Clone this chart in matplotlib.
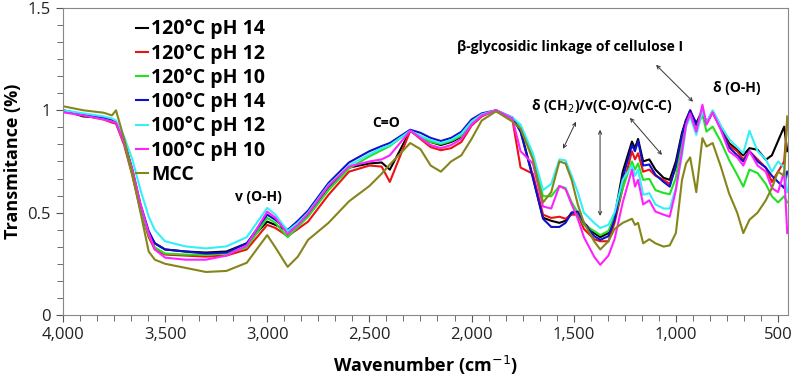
import numpy as np
import matplotlib
matplotlib.use("Agg")
import matplotlib.pyplot as plt
from matplotlib.ticker import MultipleLocator, AutoMinorLocator, FuncFormatter

plt.rcParams['font.family'] = ['Open Sans', 'DejaVu Sans']

# wavenumber grid (cm-1) the values were read at
wn = [4000, 3900, 3800, 3760, 3740, 3700, 3660, 3620, 3580, 3550,
      3500, 3400, 3300, 3200, 3100, 3000, 2960, 2900, 2850, 2800,
      2700, 2600, 2500, 2440, 2400, 2300, 2250, 2200, 2150, 2100,
      2050, 2000, 1950, 1880, 1800, 1760, 1700, 1650, 1610, 1570,
      1540, 1510, 1480, 1450, 1400, 1370, 1330, 1300, 1260, 1215,
      1200, 1185, 1160, 1130, 1100, 1060, 1030, 1000, 970, 950,
      930, 900, 870, 850, 820, 780, 740, 700, 670, 640,
      600, 560, 530, 500, 470, 455]

t120_ph14 = [1.00, 0.97, 0.963, 0.955, 0.94, 0.85, 0.70, 0.53, 0.40, 0.35,
             0.32, 0.31, 0.305, 0.31, 0.35, 0.456, 0.44, 0.41, 0.44, 0.49,
             0.625, 0.72, 0.74, 0.745, 0.71, 0.90, 0.87, 0.845, 0.83, 0.845,
             0.87, 0.935, 0.975, 1.00, 0.96, 0.90, 0.676, 0.475, 0.46, 0.45,
             0.46, 0.50, 0.50, 0.45, 0.40, 0.38, 0.40, 0.48, 0.70, 0.847,
             0.815, 0.86, 0.75, 0.76, 0.71, 0.67, 0.66, 0.75, 0.89, 0.954,
             0.995, 0.937, 1.00, 0.937, 0.995, 0.92, 0.84, 0.807, 0.78, 0.815,
             0.807, 0.758, 0.78, 0.85, 0.92, 0.80]
t120_ph12 = [1.00, 0.975, 0.955, 0.94, 0.935, 0.83, 0.68, 0.51, 0.38, 0.32,
             0.295, 0.29, 0.285, 0.29, 0.32, 0.44, 0.425, 0.385, 0.42, 0.456,
             0.587, 0.70, 0.73, 0.725, 0.65, 0.90, 0.86, 0.82, 0.805, 0.815,
             0.845, 0.925, 0.97, 1.00, 0.955, 0.72, 0.69, 0.49, 0.474, 0.48,
             0.47, 0.49, 0.49, 0.42, 0.37, 0.36, 0.36, 0.45, 0.62, 0.80,
             0.76, 0.79, 0.70, 0.71, 0.68, 0.66, 0.64, 0.72, 0.86, 0.95,
             1.00, 0.92, 1.00, 0.94, 0.99, 0.91, 0.83, 0.80, 0.76, 0.80,
             0.76, 0.72, 0.65, 0.70, 0.75, 0.95]
t120_ph10 = [1.00, 0.98, 0.96, 0.95, 0.94, 0.84, 0.69, 0.52, 0.39, 0.33,
             0.30, 0.295, 0.295, 0.30, 0.33, 0.474, 0.45, 0.38, 0.43, 0.48,
             0.61, 0.715, 0.775, 0.805, 0.825, 0.90, 0.87, 0.845, 0.835, 0.85,
             0.875, 0.94, 0.975, 0.995, 0.955, 0.92, 0.77, 0.58, 0.58, 0.63,
             0.62, 0.55, 0.50, 0.44, 0.41, 0.39, 0.41, 0.48, 0.62, 0.75,
             0.71, 0.74, 0.66, 0.665, 0.61, 0.596, 0.59, 0.67, 0.85, 0.94,
             0.985, 0.905, 0.98, 0.896, 0.92, 0.847, 0.758, 0.685, 0.627, 0.71,
             0.693, 0.64, 0.58, 0.55, 0.58, 0.55]
t100_ph14 = [1.00, 0.98, 0.965, 0.955, 0.94, 0.85, 0.71, 0.54, 0.41, 0.35,
             0.32, 0.31, 0.30, 0.305, 0.35, 0.49, 0.465, 0.415, 0.46, 0.51,
             0.645, 0.745, 0.80, 0.825, 0.84, 0.905, 0.89, 0.865, 0.85, 0.865,
             0.895, 0.955, 0.985, 1.00, 0.965, 0.895, 0.67, 0.47, 0.43, 0.43,
             0.45, 0.50, 0.505, 0.45, 0.385, 0.367, 0.385, 0.465, 0.67, 0.83,
             0.80, 0.85, 0.73, 0.735, 0.685, 0.65, 0.627, 0.73, 0.88, 0.95,
             1.00, 0.93, 0.995, 0.935, 0.99, 0.91, 0.82, 0.78, 0.75, 0.80,
             0.75, 0.72, 0.68, 0.65, 0.62, 0.70]
t100_ph12 = [1.00, 0.985, 0.97, 0.96, 0.95, 0.87, 0.76, 0.61, 0.48, 0.415,
             0.36, 0.335, 0.325, 0.335, 0.38, 0.523, 0.49, 0.41, 0.45, 0.50,
             0.635, 0.73, 0.785, 0.815, 0.83, 0.90, 0.875, 0.855, 0.84, 0.855,
             0.885, 0.945, 0.98, 1.00, 0.965, 0.93, 0.79, 0.61, 0.64, 0.76,
             0.755, 0.68, 0.60, 0.50, 0.45, 0.425, 0.44, 0.50, 0.66, 0.73,
             0.68, 0.71, 0.587, 0.595, 0.54, 0.52, 0.52, 0.62, 0.78, 0.92,
             0.97, 0.88, 0.995, 0.94, 1.00, 0.925, 0.86, 0.82, 0.79, 0.90,
             0.80, 0.76, 0.70, 0.75, 0.72, 0.60]
t100_ph10 = [0.99, 0.975, 0.955, 0.945, 0.94, 0.84, 0.71, 0.54, 0.40, 0.32,
             0.28, 0.27, 0.27, 0.29, 0.34, 0.505, 0.475, 0.395, 0.44, 0.495,
             0.63, 0.725, 0.75, 0.76, 0.78, 0.90, 0.865, 0.83, 0.815, 0.83,
             0.86, 0.93, 0.975, 1.00, 0.96, 0.80, 0.74, 0.53, 0.52, 0.63,
             0.615, 0.54, 0.47, 0.38, 0.285, 0.245, 0.29, 0.37, 0.55, 0.71,
             0.627, 0.66, 0.54, 0.56, 0.505, 0.49, 0.48, 0.61, 0.80, 0.93,
             0.985, 0.896, 1.027, 0.93, 0.99, 0.905, 0.80, 0.77, 0.73, 0.80,
             0.73, 0.70, 0.62, 0.60, 0.70, 0.40]
mcc = [1.02, 1.00, 0.988, 0.975, 1.00, 0.86, 0.69, 0.50, 0.31, 0.27,
       0.25, 0.23, 0.21, 0.215, 0.255, 0.39, 0.33, 0.235, 0.285, 0.367,
       0.45, 0.555, 0.63, 0.69, 0.735, 0.84, 0.81, 0.73, 0.70, 0.75,
       0.78, 0.86, 0.95, 0.995, 0.945, 0.91, 0.76, 0.55, 0.60, 0.75,
       0.74, 0.66, 0.54, 0.45, 0.36, 0.32, 0.36, 0.42, 0.45, 0.47,
       0.44, 0.45, 0.35, 0.37, 0.35, 0.334, 0.34, 0.40, 0.66, 0.74,
       0.77, 0.60, 0.864, 0.823, 0.84, 0.725, 0.595, 0.50, 0.40, 0.465,
       0.50, 0.56, 0.62, 0.70, 0.68, 0.97]

labels = ['120°C pH 14', '120°C pH 12', '120°C pH 10', '100°C pH 14',
          '100°C pH 12', '100°C pH 10', 'MCC']
series = [t120_ph14, t120_ph12, t120_ph10, t100_ph14, t100_ph12, t100_ph10, mcc]
colors = ['#000000', '#ee1111', '#22e022', '#1010cc', '#33f0f8', '#ff22ff', '#85851a']

fig = plt.figure(figsize=(7.96, 3.79), dpi=100)
ax = fig.add_axes([0.079, 0.169, 0.911, 0.81])

for y, lab, c in zip(series, labels, colors):
    ax.plot(wn, y, color=c, lw=1.5, label=lab)

ax.set_xlim(4000, 451)
ax.set_ylim(0, 1.5)
ax.xaxis.set_major_locator(MultipleLocator(500))
ax.xaxis.set_minor_locator(AutoMinorLocator(6))
ax.yaxis.set_major_locator(MultipleLocator(0.5))
ax.yaxis.set_minor_locator(AutoMinorLocator(6))
ax.xaxis.set_major_formatter(FuncFormatter(lambda v, p: f'{int(v):,}'))
ax.yaxis.set_major_formatter(FuncFormatter(lambda v, p: f'{v:g}'))
ax.tick_params(which='both', direction='out', colors='#555555', labelcolor='#222222',
               labelsize=12)
ax.tick_params(which='major', length=5)
ax.tick_params(which='minor', length=4)
for s in ax.spines.values():
    s.set_color('#888888')

ax.set_xlabel('Wavenumber (cm$^{-1}$)', fontsize=13, fontweight='bold', labelpad=8)
ax.set_ylabel('Transmitance (%)', fontsize=13, fontweight='bold', labelpad=4)

leg = ax.legend(loc='upper left', bbox_to_anchor=(0.077, 1.02), frameon=False,
                handlelength=0.6, handletextpad=0.15, labelspacing=0.22,
                prop={'weight': 'bold', 'size': 14})

tk = dict(fontsize=10, fontweight='bold', ha='center', va='center')
ax.text(3045, 0.577, 'v (O-H)', **tk)
ax.text(2419, 0.939, 'C=O', **tk)
ax.text(1518, 1.31, 'β-glycosidic linkage of cellulose I', **tk)
ax.text(701, 1.11, 'δ (O-H)', **tk)
ax.text(1362, 1.022, 'δ (CH$_2$)/v(C-O)/v(C-C)', **tk)

ap = dict(arrowstyle='<->', color='#333333', lw=0.7, shrinkA=0, shrinkB=0,
          mutation_scale=6)
ax.annotate('', xy=(916, 1.042), xytext=(1097, 1.222), arrowprops=ap)
ax.annotate('', xy=(1552, 0.812), xytext=(1489, 0.944), arrowprops=ap)
ax.annotate('', xy=(1371, 0.484), xytext=(1371, 0.905), arrowprops=ap)
ax.annotate('', xy=(1068, 0.782), xytext=(1225, 0.963), arrowprops=ap)

fig.savefig('out.png', dpi=100)
